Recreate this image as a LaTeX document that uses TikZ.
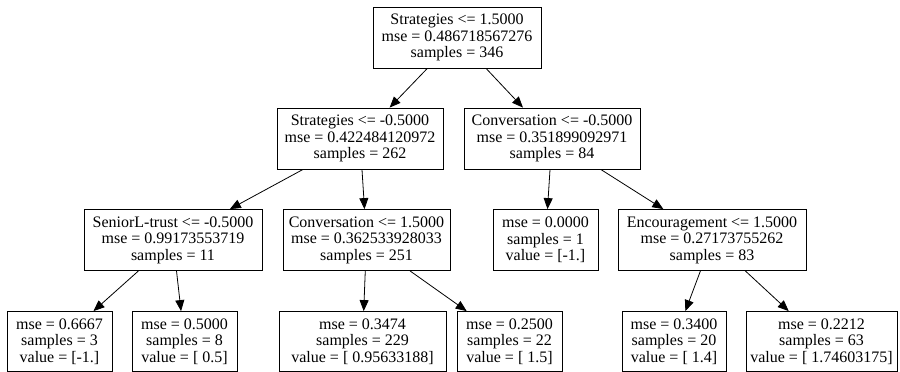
\documentclass[tikz,border=0pt]{standalone}
\usepackage{fontspec}
\setmainfont{Liberation Serif}
\usetikzlibrary{arrows.meta}

\begin{document}
\begin{tikzpicture}[
    x=1pt,y=-1pt,
    box/.style={draw,line width=.8pt,rectangle,align=center,inner sep=0pt,minimum height=61pt,font=\fontsize{16}{16.6}\selectfont},
    e/.style={-{Triangle[length=11pt,width=9pt]},line width=.8pt}
  ]
    \useasboundingbox (0,0) rectangle (900,372);
    % splits
    \node[box,minimum width=168pt] (t0) at (457,37.5) {Strategies <= 1.5000\\mse = 0.486718567276\\samples = 346};
    \node[box,minimum width=166pt] (t1) at (360,138.5) {Strategies <= -0.5000\\mse = 0.422484120972\\samples = 262};
    \node[box,minimum width=176pt] (t2) at (552,138.5) {Conversation <= -0.5000\\mse = 0.351899092971\\samples = 84};
    \node[box,minimum width=178pt] (t3) at (173,240) {SeniorL-trust <= -0.5000\\mse = 0.99173553719\\samples = 11};
    \node[box,minimum width=167pt] (t4) at (366.5,240) {Conversation <= 1.5000\\mse = 0.362533928033\\samples = 251};
    \node[box,minimum width=105pt] (t5) at (545.5,240) {mse = 0.0000\\samples = 1\\value = [-1.]};
    \node[box,minimum width=188pt] (t6) at (712,240) {Encouragement <= 1.5000\\mse = 0.27173755262\\samples = 83};
    % leaves
    \node[box,minimum width=105pt,minimum height=60pt] (t7) at (59.5,341.5) {mse = 0.6667\\samples = 3\\value = [-1.]};
    \node[box,minimum width=105pt,minimum height=60pt] (t8) at (184.5,341.5) {mse = 0.5000\\samples = 8\\value = [ 0.5]};
    \node[box,minimum width=167pt,minimum height=60pt] (t9) at (362.5,341.5) {mse = 0.3474\\samples = 229\\value = [ 0.95633188]};
    \node[box,minimum width=105pt,minimum height=60pt] (t10) at (509.5,341.5) {mse = 0.2500\\samples = 22\\value = [ 1.5]};
    \node[box,minimum width=104pt,minimum height=60pt] (t11) at (674,341.5) {mse = 0.3400\\samples = 20\\value = [ 1.4]};
    \node[box,minimum width=151pt,minimum height=60pt] (t12) at (821.5,341.5) {mse = 0.2212\\samples = 63\\value = [ 1.74603175]};
    \foreach \s/\t in {t0/t1,t0/t2,t1/t3,t1/t4,t2/t5,t2/t6,t3/t7,t3/t8,t4/t9,t4/t10,t6/t11,t6/t12} {\draw[e] (\s)--(\t);}
\end{tikzpicture}
\end{document}
